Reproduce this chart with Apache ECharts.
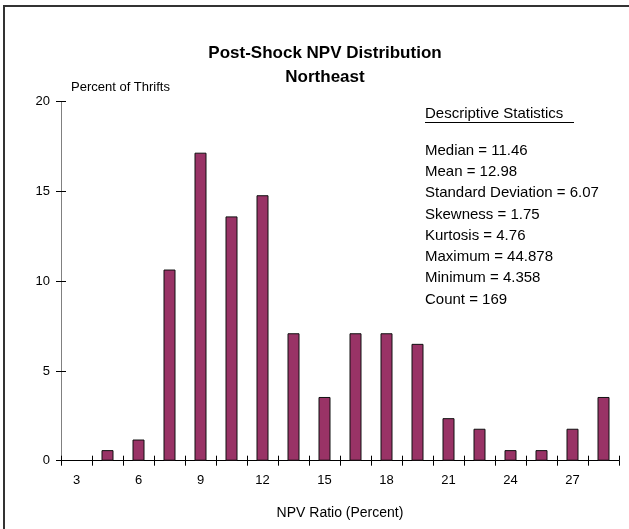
<!DOCTYPE html>
<html>
<head>
<meta charset="utf-8">
<script src="https://cdn.jsdelivr.net/npm/echarts@6/dist/echarts.min.js"></script>
<style>
  html, body { margin: 0; padding: 0; background: #fff; }
  #main { width: 629px; height: 529px; }
</style>
</head>
<body>
<div id="main"></div>
<script>
// bins of NPV ratio (percent), every other one gets a label
var categories = ['3', '4.5', '6', '7.5', '9', '10.5', '12', '13.5', '15', '16.5', '18', '19.5', '21', '22.5', '24', '25.5', '27', '28.5'];
// percent of thrifts in each bin
var pctThrifts = [0, 0.59, 1.18, 10.65, 17.16, 13.61, 14.79, 7.10, 3.55, 7.10, 7.10, 6.51, 2.37, 1.78, 0.59, 0.59, 1.78, 3.55];
var yTicks = [0, 5, 10, 15, 20];
var statsTitle = 'Descriptive Statistics';
var statsLines = [
  'Median = 11.46',
  'Mean = 12.98',
  'Standard Deviation = 6.07',
  'Skewness = 1.75',
  'Kurtosis = 4.76',
  'Maximum = 44.878',
  'Minimum = 4.358',
  'Count = 169'
];

var font = 'Liberation Sans, Arial, sans-serif';
var myChart = echarts.init(document.getElementById('main'));

// empty bins draw nothing
var barData = pctThrifts.map(function (v) { return v === 0 ? '-' : v; });

var statsText = statsLines.map(function (s, i) {
  return {
    type: 'text',
    left: 425,
    top: 143 + i * 21.3,
    style: { text: s, font: '15px ' + font, fill: '#000' }
  };
});

var option = {
  animation: false,
  backgroundColor: '#fff',
  title: {
    text: 'Post-Shock NPV Distribution\nNortheast',
    left: 325,
    top: 41.5,
    textAlign: 'center',
    padding: 0,
    textStyle: { fontFamily: font, fontSize: 17, fontWeight: 'bold', color: '#000', lineHeight: 24 }
  },
  grid: { left: 61, right: 10, top: 101.7, bottom: 68.3 },
  xAxis: [{
    type: 'category',
    data: categories,
    position: 'bottom',
    name: 'NPV Ratio (Percent)',
    nameLocation: 'middle',
    nameGap: 45,
    nameTextStyle: { fontFamily: font, fontSize: 14, color: '#000' },
    axisLine: { lineStyle: { color: '#000', width: 1 } },
    axisTick: { show: true, interval: 0, length: 5, lineStyle: { color: '#000' } },
    axisLabel: { interval: 1, margin: 13, fontFamily: font, fontSize: 13, color: '#000' },
    splitLine: { show: false }
  }, {
    type: 'category',
    data: categories,
    position: 'bottom',
    axisLine: { show: false },
    axisTick: { show: true, inside: true, interval: 0, length: 5, lineStyle: { color: '#000' } },
    axisLabel: { show: false },
    splitLine: { show: false }
  }],
  yAxis: [{
    type: 'value',
    min: yTicks[0],
    max: yTicks[yTicks.length - 1],
    interval: 5,
    position: 'left',
    axisLine: { show: true, lineStyle: { color: '#808080', width: 1 } },
    axisTick: { show: true, length: 5, lineStyle: { color: '#000' } },
    axisLabel: { margin: 11, fontFamily: font, fontSize: 13, color: '#000' },
    splitLine: { show: false }
  }, {
    type: 'value',
    min: yTicks[0],
    max: yTicks[yTicks.length - 1],
    interval: 5,
    position: 'left',
    axisLine: { show: false },
    axisTick: { show: true, inside: true, length: 5, lineStyle: { color: '#000' } },
    axisLabel: { show: false },
    splitLine: { show: false }
  }],
  series: [{
    type: 'bar',
    data: barData,
    barWidth: 12,
    itemStyle: { color: '#993366', borderColor: '#111', borderWidth: 1 }
  }],
  graphic: [
    {
      type: 'rect',
      shape: { x: 4, y: 6, width: 700, height: 600 },
      style: { fill: null, stroke: '#333', lineWidth: 2 },
      silent: true
    },
    {
      type: 'text',
      left: 71,
      top: 80.5,
      style: { text: 'Percent of Thrifts', font: '13px ' + font, fill: '#000' }
    },
    {
      type: 'text',
      left: 425,
      top: 106.5,
      style: { text: statsTitle, font: '15px ' + font, fill: '#000' }
    },
    {
      type: 'line',
      shape: { x1: 425, y1: 122.5, x2: 574, y2: 122.5 },
      style: { stroke: '#000', lineWidth: 1 }
    }
  ].concat(statsText)
};
myChart.setOption(option);
</script>
</body>
</html>
